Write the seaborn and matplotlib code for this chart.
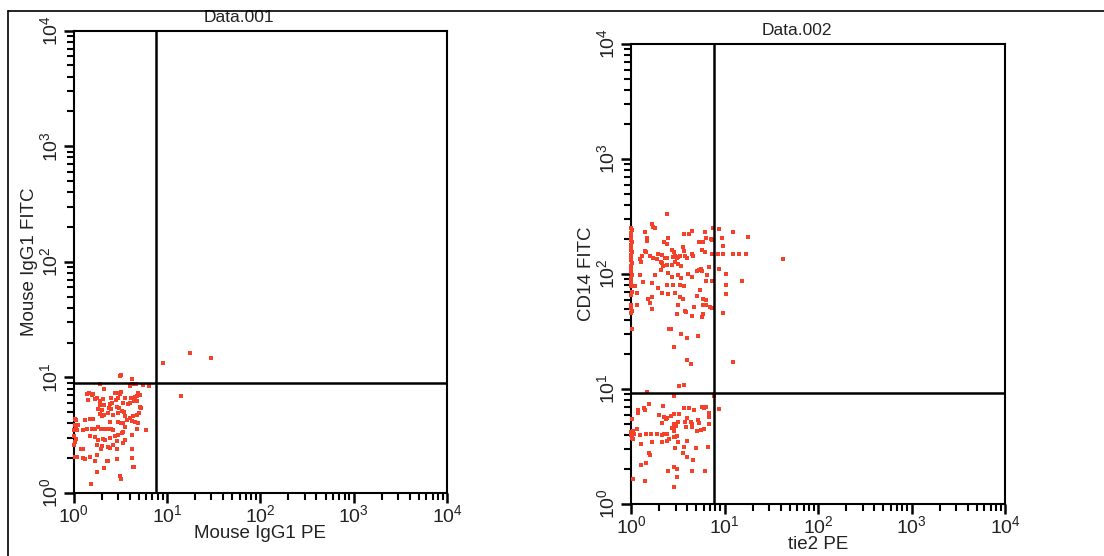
import matplotlib
matplotlib.use("Agg")
import matplotlib.pyplot as plt
from matplotlib.lines import Line2D
from matplotlib.ticker import LogLocator, NullFormatter
import pandas as pd
import seaborn as sns

# Data.001 : Mouse IgG1 PE (x) vs Mouse IgG1 FITC (y)
pe_001 = [
    1.38, 1.48, 1.57, 1.6, 1.8, 2.1, 2.8, 3.0, 3.15, 3.2, 4.1, 4.3, 4.55, 4.8, 4.9, 5.15,
    1.44, 1.7, 1.92, 2.05, 2.55, 2.85, 3.0, 3.55, 4.0, 4.4, 4.75,
    1.9, 2.1, 2.45, 2.6, 2.95, 3.35, 3.85, 5.15, 5.25, 2.4, 2.55, 3.1, 3.3, 3.45, 2.0, 1.85,
    1.92, 2.0, 2.1, 2.35, 2.67, 3.0, 3.55, 4.0, 4.3, 4.8, 5.05, 1.63, 1.33, 1.5, 1.04, 1.06,
    2.45, 3.0, 3.2, 3.4, 3.7, 4.2, 4.55, 4.9, 1.04, 1.06, 1.13,
    1.27, 1.38, 1.57, 1.7, 1.85, 1.95, 2.05, 2.17, 2.27, 2.4, 2.55, 2.67, 3.4, 3.55, 4.75, 6.0, 1.01, 1.08,
    1.5, 1.7, 2.05, 2.45, 2.8, 3.0, 3.3, 4.2, 1.01, 1.06, 1.04, 1.85, 2.17, 2.9, 3.55,
    1.77, 2.0, 2.35, 2.67, 3.4, 1.95, 2.45, 2.9, 4.2, 1.2, 1.27, 1.01,
    1.04, 1.08, 1.25, 1.33, 1.5, 1.77, 2.27, 2.35, 2.95, 4.2, 1.7,
    4.3, 4.45, 2.1, 1.8, 3.15, 3.2, 1.53,
    3.15, 3.25, 4.2, 1.92, 4.2, 4.45, 4.7, 5.5, 6.5, 4.0,
    9.1, 17.7, 29.7, 14.2,
]
fitc_001 = [
    7.15, 7.3, 7.0, 7.2, 6.7, 7.9, 7.3, 7.3, 7.2, 7.5, 6.7, 6.7, 6.8, 6.9, 7.3, 7.1,
    6.4, 6.45, 6.3, 6.45, 6.7, 6.4, 6.7, 6.6, 6.0, 6.2, 6.2,
    5.8, 5.8, 5.9, 6.05, 5.6, 6.05, 5.9, 5.6, 5.4, 5.4, 5.3, 5.4, 5.15, 5.0, 5.2, 5.3,
    4.8, 4.65, 4.7, 4.9, 4.7, 4.9, 4.65, 4.5, 4.65, 4.7, 4.9, 4.4, 4.3, 4.35, 4.4, 4.3,
    4.15, 4.15, 4.05, 4.05, 4.3, 4.2, 4.15, 4.0, 3.9, 3.75, 3.9,
    3.5, 3.6, 3.6, 3.55, 3.7, 3.6, 3.6, 3.6, 3.6, 3.6, 3.6, 3.5, 3.4, 3.75, 3.6, 3.5, 3.5, 3.5,
    3.1, 3.07, 2.95, 3.0, 3.1, 3.2, 3.3, 3.2, 3.1, 2.95, 2.75, 2.87, 2.85, 2.8, 2.87,
    2.6, 2.55, 2.5, 2.6, 2.7, 2.4, 2.45, 2.4, 2.4, 2.4, 2.4, 2.6,
    2.05, 2.05, 2.0, 1.97, 2.05, 2.15, 1.9, 1.9, 1.95, 2.0, 1.9,
    1.69, 1.67, 1.63, 1.53, 1.4, 1.31, 1.2,
    10.3, 10.6, 9.7, 8.8, 8.8, 8.8, 8.8, 8.6, 8.4, 8.4,
    13.3, 16.3, 14.7, 6.9,
]

# Data.002 : tie2 PE (x) vs CD14 FITC (y)
pe_002 = [
    2.43, 1.66, 1.73, 1.8, 1.41, 1.47, 1.5, 2.5, 2.27, 2.4, 3.7, 4.2, 4.45, 6.2, 6.4, 5.4, 5.9,
    1.4, 1.44, 1.3, 1.25, 1.28, 1.6, 1.73, 1.96, 2.13, 1.88, 2.1, 2.16, 2.31, 2.45, 2.72, 2.9,
    2.8, 2.95, 3.07, 3.2, 3.35, 3.6, 3.7, 3.78, 4.0, 4.45, 4.6, 5.8, 6.2, 7.2, 7.4,
    2.21, 2.4, 2.1, 2.72, 2.95, 3.2, 3.45, 5.1, 5.4, 5.6, 5.8, 1.8, 1.25, 2.5, 2.72, 3.2, 3.4,
    4.1, 4.45, 6.4, 1.35, 1.66, 2.4, 2.8, 3.35, 3.7, 1.1, 1.15, 1.96, 2.13, 2.5, 2.95,
    1.53, 1.66, 3.35, 3.6, 5.1, 5.9, 1.15, 1.6, 1.66, 3.2, 3.9, 4.7, 6.4, 7.0, 3.07, 3.78, 4.45, 5.7,
    8.8, 12.2, 18.0, 9.3, 9.7, 8.6, 9.7, 12.2, 14.4, 17.0, 42.6, 8.8, 10.4, 15.3, 10.4, 10.4, 9.7,
    7.3, 7.5, 6.9, 7.3, 7.3, 6.4, 5.9, 5.5, 6.5, 5.9,
    2.56, 2.7, 3.45, 4.0, 5.2, 2.9, 4.0, 4.4, 12.2, 3.3, 3.7, 1.47, 1.03,
    1.0, 1.02, 1.0, 1.01, 1.0, 1.02, 1.0, 1.01, 1.0, 1.02, 1.0, 1.01, 1.0, 1.02,
    1.0, 1.01, 1.0, 1.02, 1.0, 1.01, 1.0, 1.02, 1.0, 1.01, 1.0, 1.02, 1.0,
    2.9, 7.8, 8.8, 1.56, 2.2, 1.2, 1.18, 1.39, 1.41, 1.99, 2.27, 2.4, 2.65, 2.9, 3.25,
    3.7, 4.15, 4.75, 5.8, 6.1, 6.3, 6.8, 6.8, 2.13, 2.35, 2.85, 3.0, 3.15, 3.78, 3.95,
    4.35, 4.45, 3.85, 4.45, 5.15, 5.3, 6.0, 5.1, 5.65, 6.8, 1.05, 1.08, 1.03, 1.05, 1.15,
    1.25, 1.43, 1.62, 1.88, 2.15, 2.27, 2.45, 2.72, 2.85, 2.9, 2.95, 2.85, 3.07, 2.55, 2.45,
    2.13, 1.66, 1.27, 3.2, 4.0, 2.95, 3.7, 4.9, 6.6, 3.62, 4.0, 4.6, 1.56, 1.6, 1.43, 1.27,
    2.9, 3.07, 2.5, 4.5, 6.2, 3.07, 1.05, 1.41, 2.85, 1.03, 1.0, 1.0,
]
fitc_002 = [
    333, 270, 258, 250, 230, 204, 193, 204, 190, 182, 221, 221, 237, 230, 205, 190, 188,
    160, 155, 142, 135, 128, 142, 137, 150, 146, 135, 128, 125, 137, 137, 163, 156,
    140, 143, 138, 140, 143, 170, 158, 143, 137, 150, 143, 163, 155, 200, 150,
    118, 120, 108, 119, 127, 121, 118, 106, 108, 110, 106, 98, 99, 102, 95, 98, 93,
    100, 95, 87, 86, 83, 81, 80, 80, 78, 78, 68, 76, 68, 67, 69,
    61, 63, 63, 61, 65, 61, 54, 56, 50, 54, 47, 52, 54, 52, 45, 48, 43, 42,
    246, 230, 211, 204, 175, 149, 149, 149, 149, 149, 134, 110, 101, 87, 80, 67, 45.5,
    198, 253, 116, 87, 51, 59, 54, 73, 99, 45,
    33, 33, 30, 28, 29, 23, 17.8, 16.6, 17.0, 10.6, 10.8, 9.5, 33,
    250, 240, 225, 210, 198, 190, 179, 170, 162, 155, 147, 139, 133, 124,
    118, 110, 105, 98, 93, 85, 78, 70, 66, 54, 51, 48, 46,
    8.7, 8.7, 6.7, 7.4, 7.1, 6.6, 6.2, 6.8, 6.6, 6.0, 5.7, 5.55, 5.8, 6.1, 6.1,
    6.8, 6.8, 6.6, 7.0, 6.8, 7.0, 6.2, 5.7, 5.1, 5.5, 5.0, 4.8, 5.2, 5.2, 5.55,
    5.2, 4.95, 4.65, 4.7, 5.4, 5.1, 4.5, 4.3, 4.4, 4.95, 4.3, 4.1, 3.75, 3.7, 4.5,
    3.95, 4.1, 4.1, 4.05, 4.0, 4.1, 4.05, 4.55, 4.4, 4.3, 3.85, 3.8, 3.9, 3.65, 3.55,
    3.45, 3.45, 3.35, 3.45, 3.55, 3.05, 3.15, 3.05, 3.1, 2.76, 2.58, 2.4, 2.75, 2.65, 2.25, 2.2,
    2.1, 2.0, 1.92, 1.92, 1.95, 1.73, 1.64, 1.57, 1.4, 5.5, 4.0, 4.2,
]

# quadrant gates (PE, FITC)
gate_001 = (7.6, 9.0)
gate_002 = (7.8, 9.3)

panels = [
    ("Data.001", "Mouse IgG1 PE", "Mouse IgG1 FITC", pe_001, fitc_001, gate_001),
    ("Data.002", "tie2 PE", "CD14 FITC", pe_002, fitc_002, gate_002),
]

sns.set_style("ticks")
plt.rcParams["font.family"] = ["Liberation Sans", "DejaVu Sans"]
plt.rcParams["mathtext.fontset"] = "custom"
plt.rcParams["mathtext.rm"] = "Liberation Sans"
plt.rcParams["mathtext.it"] = "Liberation Sans"
plt.rcParams["mathtext.default"] = "regular"

W, H = 1104, 556
fig = plt.figure(figsize=(W / 100, H / 100), dpi=100)
fig.patch.set_facecolor("white")

# axes boxes in pixels: left, top, right, bottom
boxes = [(73.5, 30.7, 447, 493), (631, 44, 1005, 504)]

text_col = "#222222"
dot_col = "#f5402a"

for (title, xlab, ylab, xs, ys, gate), (l, t, r, b) in zip(panels, boxes):
    ax = fig.add_axes([l / W, (H - b) / H, (r - l) / W, (b - t) / H])
    df = pd.DataFrame({"pe": xs, "fitc": ys})
    sns.scatterplot(data=df, x="pe", y="fitc", ax=ax, color=dot_col, s=5,
                    marker="s", linewidth=0, clip_on=False, zorder=3)
    ax.set_xscale("log")
    ax.set_yscale("log")
    ax.set_xlim(1, 1e4)
    ax.set_ylim(1, 1e4)

    # quadrant lines
    ax.axvline(gate[0], color="black", lw=1.8, zorder=4)
    ax.axhline(gate[1], color="black", lw=1.8, zorder=4)

    for s in ax.spines.values():
        s.set_visible(True)
        s.set_linewidth(1.5)
        s.set_color("black")

    for axis in (ax.xaxis, ax.yaxis):
        axis.set_major_locator(LogLocator(base=10, numticks=10))
        axis.set_minor_locator(LogLocator(base=10, subs=range(2, 10), numticks=20))
        axis.set_minor_formatter(NullFormatter())

    ax.tick_params(which="major", direction="out", length=7, width=1.8,
                   labelsize=14, labelcolor=text_col, color="black")
    ax.tick_params(which="minor", direction="out", length=5, width=1.5, color="black")
    ax.tick_params(axis="x", which="major", pad=1)
    ax.tick_params(axis="y", which="major", pad=2)
    for lab in ax.get_yticklabels():
        lab.set_rotation(90)
        lab.set_va("center")

    ax.set_xlabel(xlab, fontsize=13.5, color=text_col, labelpad=-1)
    ax.set_ylabel(ylab, fontsize=13.5, color=text_col, labelpad=1)
    ax.text(0.443, 1.012, title, transform=ax.transAxes, ha="center", va="bottom",
            fontsize=12.5, color=text_col)

# outer frame of the figure image
fig.add_artist(Line2D([8 / W, 1], [1 - 11 / H, 1 - 11 / H], transform=fig.transFigure,
                      color="black", lw=1.2))
fig.add_artist(Line2D([8 / W, 8 / W], [0, 1 - 11 / H], transform=fig.transFigure,
                      color="black", lw=1.2))

fig.savefig("out.png", dpi=100, facecolor="white")
